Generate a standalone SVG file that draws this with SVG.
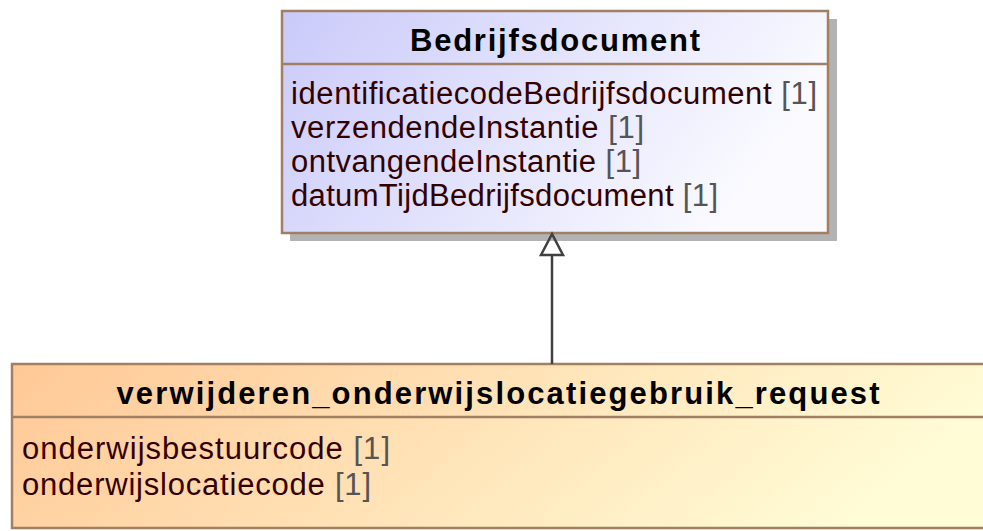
<svg xmlns="http://www.w3.org/2000/svg" width="983" height="531" viewBox="0 0 983 531">
<defs>
<linearGradient id="gBlue" x1="0" y1="0" x2="1" y2="0.3">
<stop offset="0" stop-color="#cacafa"/>
<stop offset="1" stop-color="#fafaff"/>
</linearGradient>
<linearGradient id="gOrange" x1="0" y1="0" x2="1" y2="0.2">
<stop offset="0" stop-color="#ffc896"/>
<stop offset="1" stop-color="#fffcd6"/>
</linearGradient>
<style>
.box{stroke:#a07f63;stroke-width:2.5}
.sep{stroke:#a07f63;stroke-width:2.5}
.shadow{fill:#b3b3b3}
.title{font-family:"Liberation Sans",Arial,sans-serif;font-weight:bold;font-size:31px;fill:#000}
.attr{font-family:"Liberation Sans",Arial,sans-serif;font-size:31px;fill:#330000}
.mult{fill:#555555}
.conn{stroke:#404040;stroke-width:2.5;fill:none}
</style>
</defs>
<g id="Bedrijfsdocument">
<rect class="shadow" x="290" y="19" width="547" height="222"/>
<rect class="box" x="282" y="11" width="546" height="222" fill="url(#gBlue)"/>
<line class="sep" x1="282" y1="64" x2="828" y2="64"/>
<text class="title" x="555" y="51" text-anchor="middle" textLength="290" lengthAdjust="spacing">Bedrijfsdocument</text>
<text class="attr" x="291" y="104" textLength="526" lengthAdjust="spacing">identificatiecodeBedrijfsdocument <tspan class="mult">[1]</tspan></text>
<text class="attr" x="291" y="138" textLength="353" lengthAdjust="spacing">verzendendeInstantie <tspan class="mult">[1]</tspan></text>
<text class="attr" x="291" y="172" textLength="350" lengthAdjust="spacing">ontvangendeInstantie <tspan class="mult">[1]</tspan></text>
<text class="attr" x="291" y="206" textLength="427" lengthAdjust="spacing">datumTijdBedrijfsdocument <tspan class="mult">[1]</tspan></text>
</g>
<g id="verwijderen_onderwijslocatiegebruik_request">
<rect class="box" x="12" y="364" width="990" height="164" fill="url(#gOrange)"/>
<line class="sep" x1="12" y1="417" x2="983" y2="417"/>
<text class="title" x="498" y="404" text-anchor="middle" textLength="763" lengthAdjust="spacing">verwijderen_onderwijslocatiegebruik_request</text>
<text class="attr" x="22" y="459" textLength="368" lengthAdjust="spacing">onderwijsbestuurcode <tspan class="mult">[1]</tspan></text>
<text class="attr" x="22" y="495" textLength="349" lengthAdjust="spacing">onderwijslocatiecode <tspan class="mult">[1]</tspan></text>
</g>
<g id="connectors">
<line class="conn" x1="552" y1="364" x2="552" y2="255"/>
<polygon class="conn" points="552,234 541,255 563,255" fill="#ffffff"/>
</g>
</svg>
